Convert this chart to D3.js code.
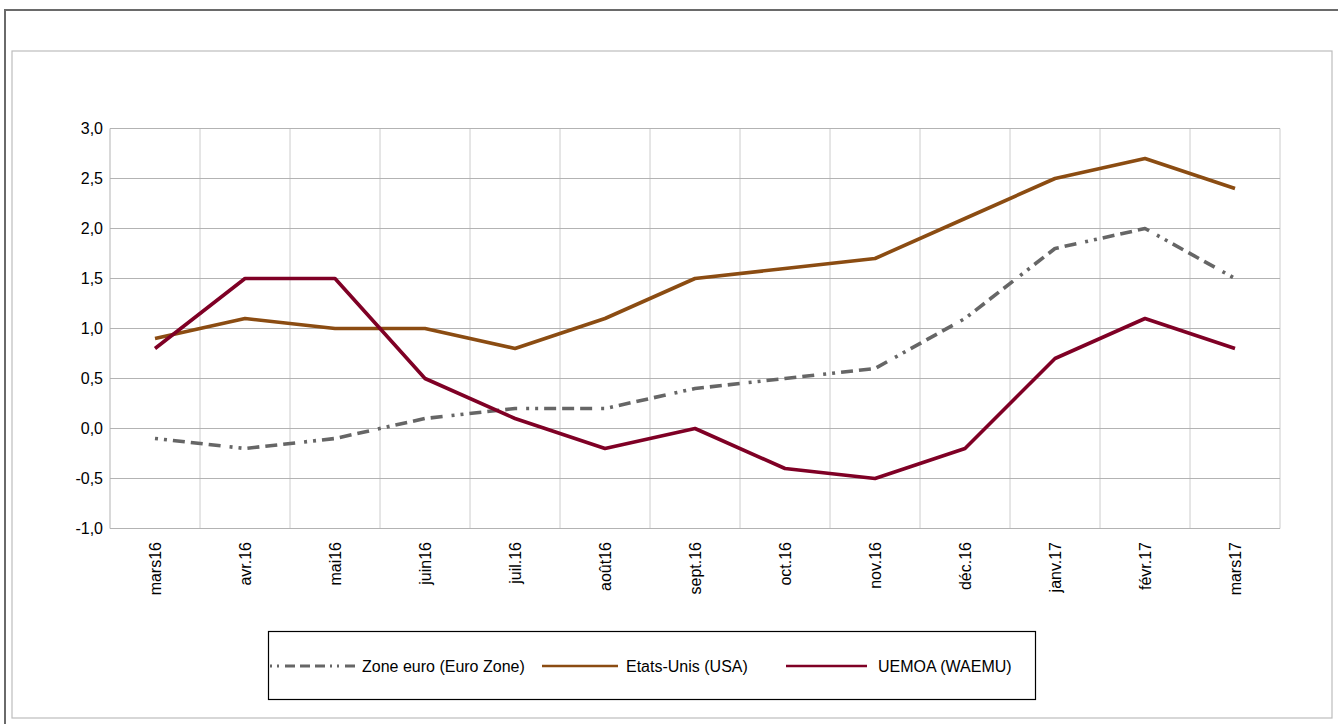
<!DOCTYPE html>
<html><head><meta charset="utf-8">
<script src="https://cdn.jsdelivr.net/npm/d3@7"></script>
<style>body{margin:0;background:#fff}svg{display:block}text{font-family:"Liberation Sans",Arial,sans-serif;fill:#000}</style>
</head><body>
<svg id="c" width="1338" height="724"></svg>
<script>
const categories = ["mars16","avr.16","mai16","juin16","juil.16","août16","sept.16","oct.16","nov.16","déc.16","janv.17","févr.17","mars17"];
const euroZone = [-0.1,-0.2,-0.1,0.1,0.2,0.2,0.4,0.5,0.6,1.1,1.8,2.0,1.5];
const usa = [0.9,1.1,1.0,1.0,0.8,1.1,1.5,1.6,1.7,2.1,2.5,2.7,2.4];
const uemoa = [0.8,1.5,1.5,0.5,0.1,-0.2,0.0,-0.4,-0.5,-0.2,0.7,1.1,0.8];
const yTicks = [-1.0,-0.5,0.0,0.5,1.0,1.5,2.0,2.5,3.0];
const seriesNames = ["Zone euro (Euro Zone)","Etats-Unis (USA)","UEMOA (WAEMU)"];

const series = [
  {name: seriesNames[0], values: euroZone, color: "#666666", dash: "3,6,3,6,12,6,12,6,12,9", legendDash:"2,5,2,6,10,5,10,5,10,5"},
  {name: seriesNames[1], values: usa, color: "#8b4c12", dash: null},
  {name: seriesNames[2], values: uemoa, color: "#7f0025", dash: null}
];

const svg = d3.select("#c");
const L = 110, R = 1280, T = 128.5, B = 528.5;
const x = d3.scaleBand().domain(categories).range([L, R]).padding(0);
const y = d3.scaleLinear().domain([-1, 3]).range([B, T]);

// outer frame (top + left visible)
svg.append("path").attr("d", "M5,1000 L5,10 L1400,10").attr("fill","none").attr("stroke","#6a6a6a").attr("stroke-width",2);
// inner frame
svg.append("rect").attr("x",12).attr("y",51).attr("width",1320).attr("height",667).attr("fill","none").attr("stroke","#bdbdbd").attr("stroke-width",1.2);

// vertical gridlines at band boundaries
const g = svg.append("g");
g.selectAll("line.v").data(categories).join("line")
  .attr("x1", d => x(d) + x.bandwidth()).attr("x2", d => x(d) + x.bandwidth())
  .attr("y1", T).attr("y2", B).attr("stroke", "#cccccc").attr("stroke-width", 1);
// horizontal gridlines
g.selectAll("line.h").data(yTicks).join("line")
  .attr("x1", L).attr("x2", R).attr("y1", d => y(d)).attr("y2", d => y(d))
  .attr("stroke", "#b3b3b3").attr("stroke-width", 1);
// left axis line
g.append("line").attr("x1", L).attr("x2", L).attr("y1", T).attr("y2", B).attr("stroke","#b3b3b3");

// y tick labels
const fmt = d => d3.format(".1f")(d).replace(".", ",").replace("−","-");
svg.selectAll("text.yt").data(yTicks).join("text")
  .attr("x", 103).attr("y", d => y(d)).attr("dy","0.36em")
  .attr("text-anchor","end").attr("font-size", 16).text(fmt);

// x tick labels rotated
svg.selectAll("text.xt").data(categories).join("text")
  .attr("transform", d => `translate(${x(d) + x.bandwidth()/2 + 6},542) rotate(-90)`)
  .attr("text-anchor","end").attr("font-size", 16).text(d => d);

// lines
const line = d3.line().x((d,i) => x(categories[i]) + x.bandwidth()/2).y(d => y(d));
series.forEach(s => {
  svg.append("path").datum(s.values).attr("d", line)
    .attr("fill","none").attr("stroke", s.color).attr("stroke-width", 3.6)
    .attr("stroke-dasharray", s.dash).attr("stroke-linejoin","round");
});

// legend
svg.append("rect").attr("x",268.5).attr("y",631.5).attr("width",767).attr("height",68).attr("fill","#fff").attr("stroke","#000").attr("stroke-width",1.2);
const leg = [
  {x1:270, x2:358, tx:362},
  {x1:542, x2:618, tx:626},
  {x1:786, x2:867, tx:878}
];
series.forEach((s,i) => {
  svg.append("line").attr("x1", leg[i].x1).attr("x2", leg[i].x2).attr("y1", 666).attr("y2", 666)
    .attr("stroke", s.color).attr("stroke-width", i===0 ? 3 : 2.6)
    .attr("stroke-dasharray", s.legendDash || null);
  svg.append("text").attr("x", leg[i].tx).attr("y", 666).attr("dy","0.36em")
    .attr("font-size", 16).text(s.name);
});
</script>
</body></html>
